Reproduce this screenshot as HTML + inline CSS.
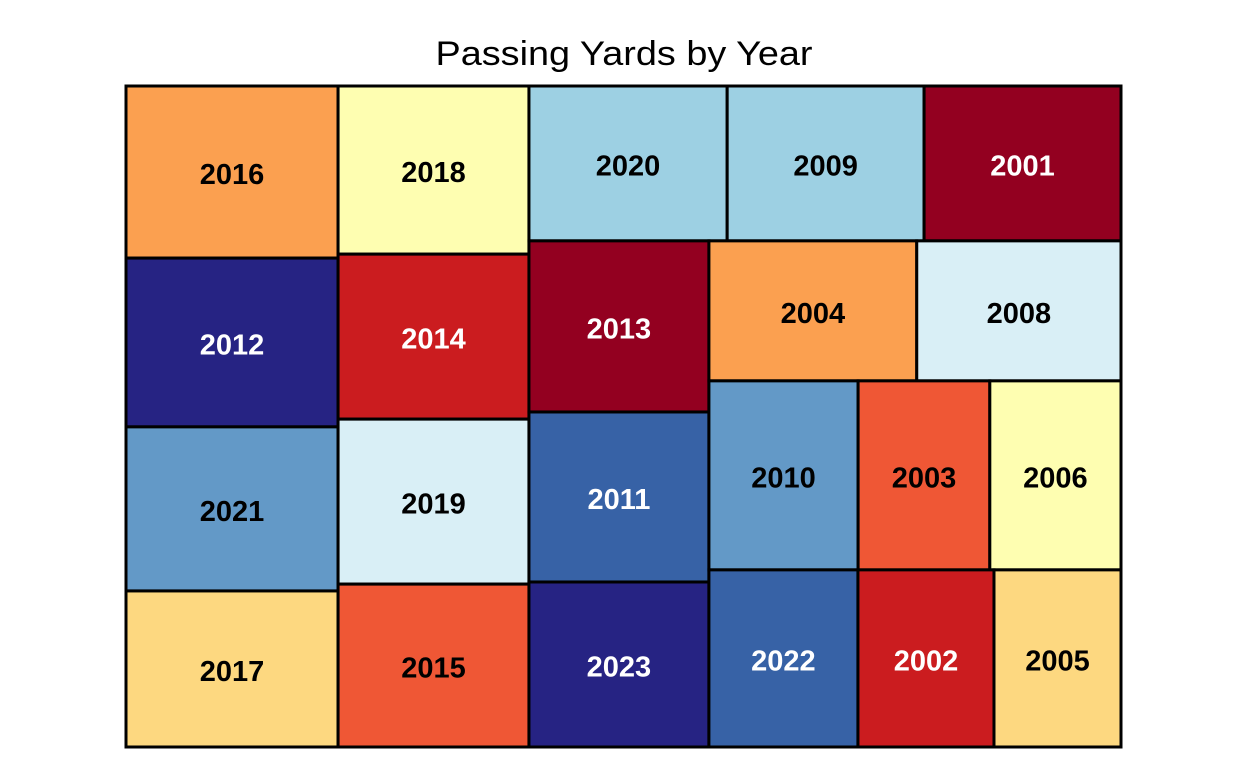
<!DOCTYPE html>
<html><head><meta charset="utf-8"><style>
html,body{margin:0;padding:0;background:#fff;}
svg{display:block;}
</style></head><body>
<svg id="chart" width="1248" height="768" viewBox="0 0 1248 768" xmlns="http://www.w3.org/2000/svg">
<text x="624" y="65" text-anchor="middle" font-family="Liberation Sans, sans-serif" font-size="34" textLength="377" lengthAdjust="spacingAndGlyphs" fill="#000">Passing Yards by Year</text>
<g id="cells"></g>
</svg>
<script>
const years = ["2016","2012","2021","2017","2018","2014","2019","2015","2020","2009","2001","2013","2011","2023","2004","2008","2010","2003","2006","2022","2002","2005"];
const values = [36.5,35.8,34.8,33.1,32.1,31.5,31.5,31.1,30.7,30.5,30.5,30.8,30.6,29.7,29.1,28.6,28.2,24.9,24.8,26.4,24.1,22.5];
const colors = ["#fba050","#262383","#6399c7","#fdd880","#fefeb1","#cb1c1f","#d9eff6","#ef5735","#9dd0e3","#9dd0e3","#930020","#930020","#3762a6","#262383","#fba050","#d9eff6","#6399c7","#ef5735","#fefeb1","#3762a6","#cb1c1f","#fdd880"];
const darkText = ["2012","2014","2001","2013","2011","2023","2022","2002"];
const tree = {d:"h",c:[
  {d:"v",c:[0,1,2,3]},
  {d:"v",c:[4,5,6,7]},
  {d:"v",c:[
    {d:"h",c:[8,9,10]},
    {d:"h",c:[
      {d:"v",c:[11,12,13]},
      {d:"v",c:[{d:"h",c:[14,15]},{d:"h",c:[16,17,18]},{d:"h",c:[19,20,21]}]}
    ]}
  ]}
]};
const X0=126,Y0=86,X1=1121,Y1=747;
function total(n){return typeof n==="number"?values[n]:n.c.reduce((s,k)=>s+total(k),0);}
const g=document.getElementById('cells');
const NS="http://www.w3.org/2000/svg";
function layout(n,x,y,w,h){
  if(typeof n==="number"){draw(n,x,y,w,h);return;}
  const t=total(n);let off=0;
  n.c.forEach(k=>{
    const f=total(k)/t;
    if(n.d==="h"){layout(k,x+off,y,w*f,h);off+=w*f;}
    else{layout(k,x,y+off,w,h*f);off+=h*f;}
  });
}
function draw(i,x,y,w,h){
  const r=document.createElementNS(NS,'rect');
  
  
  r.setAttribute('x',x);r.setAttribute('y',y);r.setAttribute('width',w);r.setAttribute('height',h);
  r.setAttribute('fill',colors[i]);r.setAttribute('stroke','#000');r.setAttribute('stroke-width','3');
  g.appendChild(r);
  const t=document.createElementNS(NS,'text');
  
  
  t.setAttribute('x',x+w/2);t.setAttribute('y',y+h/2+12);
  t.setAttribute('text-anchor','middle');
  t.setAttribute('font-family','Liberation Sans, sans-serif');
  t.setAttribute('font-weight','bold');t.setAttribute('font-size','29');
  t.setAttribute('fill',darkText.includes(years[i])?'#fff':'#000');
  t.textContent=years[i];
  g.appendChild(t);
}
layout(tree,X0,Y0,X1-X0,Y1-Y0);
</script>
</body></html>
